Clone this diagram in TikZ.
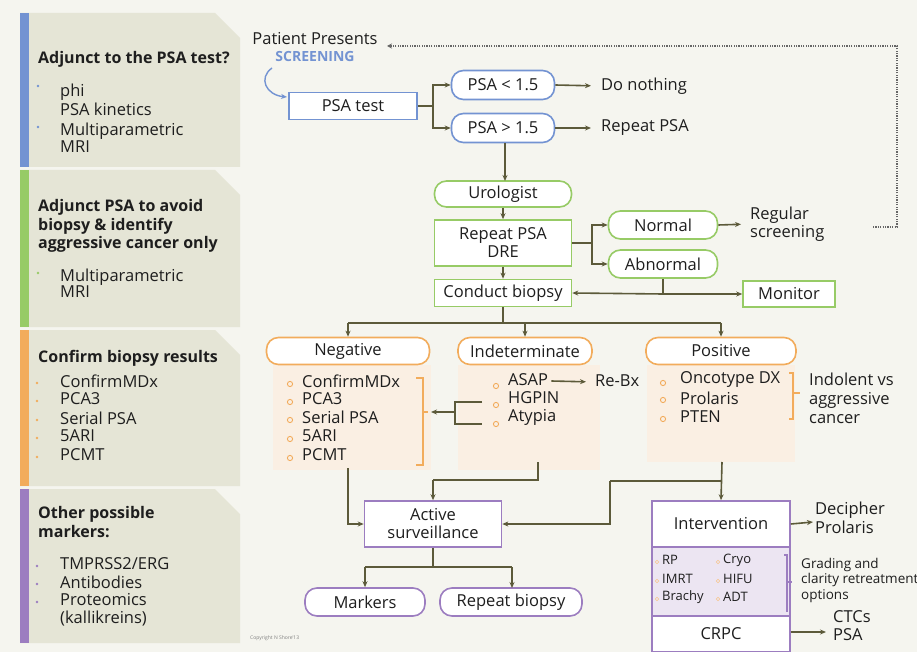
\documentclass[tikz,border=0pt]{standalone}
\usepackage{fontspec}
\setmainfont{Open Sans}
\usetikzlibrary{arrows.meta}
\definecolor{bgC}{HTML}{F5F5EF}
\definecolor{panelC}{HTML}{E5E5D6}
\definecolor{blueC}{HTML}{7393D2}
\definecolor{greenC}{HTML}{97CB66}
\definecolor{orangeC}{HTML}{F2AC5C}
\definecolor{purpleC}{HTML}{9C7DC0}
\definecolor{lineC}{HTML}{5C5A3A}
\definecolor{peachC}{HTML}{FAEFE3}
\definecolor{lilacC}{HTML}{ECE5F2}
\definecolor{txtC}{HTML}{1E1E1E}
\begin{document}
\begin{tikzpicture}[x=1pt,y=-1pt,
  every node/.style={font=\fontsize{16.5}{18}\selectfont, text=txtC, inner sep=0pt},
  conn/.style={draw=lineC, line width=1.6pt},
  arr/.style={conn, -{Stealth[length=6pt,width=5pt]}},
  rectbox/.style={draw=#1, line width=1.6pt, fill=white, align=center},
  pillbox/.style={rectbox=#1, rounded corners=12pt},
  lbl/.style={anchor=west, align=left},
  head/.style={anchor=west, align=left, font=\bfseries\fontsize{16}{18.5}\selectfont},
  item/.style={anchor=west, font=\fontsize{16.5}{16}\selectfont},
  smallitem/.style={anchor=west, font=\fontsize{13}{14}\selectfont},
  ring/.style={draw=orangeC, line width=0.9pt}
]
\useasboundingbox (0,0) rectangle (917,652);
\fill[bgC] (0,0) rectangle (917,652);

% ---------------- left panels ----------------
\foreach \ya/\yb/\c in {13/167/blueC, 170/327/greenC, 330/486/orangeC, 489/643/purpleC}{
  \fill[panelC] (20,\ya) -- (215,\ya) -- (240,\ya+25) -- (240,\yb) -- (20,\yb) -- cycle;
  \fill[\c] (20,\ya) rectangle (29,\yb);
}
% panel 1
\node[head] (h1) at (38,59) {Adjunct to the PSA test?};
\fill[blueC] (38,86) circle (1.4);
\fill[blueC] (38,127) circle (1.4);
\node[item] (p1a) at (60,92) {phi};
\node[item] (p1b) at (60,109) {PSA kinetics};
\node[item] (p1c) at (60,131) {Multiparametric};
\node[item] (p1d) at (60,147) {MRI};
% panel 2
\node[head] (h2) at (38,226) {Adjunct PSA to avoid\\biopsy \& identify\\aggressive cancer only};
\fill[greenC] (38,273) circle (1.4);
\node[item] (p2a) at (60,277) {Multiparametric};
\node[item] (p2b) at (60,292) {MRI};
% panel 3
\node[head] (h3) at (38,358) {Confirm biopsy results};
\foreach \t/\y [count=\i] in {ConfirmMDx/381, PCA3/399, Serial PSA/418, 5ARI/436, PCMT/455}{
  \fill[orangeC] (37,\y+2) circle (1.4);
  \node[item] (p3\i) at (60,\y) {\t};
}
% panel 4
\node[head] (h4) at (38,522) {Other possible\\markers:};
\foreach \t/\y [count=\i] in {{TMPRSS2/ERG}/564, Antibodies/582, Proteomics/600}{
  \fill[purpleC] (37,\y+2) circle (1.4);
  \node[item] (p4\i) at (60,\y) {\t};
}
\node[item] (p44) at (60,619) {(kallikreins)};

% ---------------- top flow ----------------
\node (pp) at (315,39) {Patient Presents};
\node[font=\bfseries\fontsize{14}{15}\selectfont, text=blueC] (scr) at (315,57) {SCREENING};
\node[rectbox=blueC, minimum width=128pt, minimum height=27pt] (psa) at (353,106) {PSA test};
\node[pillbox=blueC, minimum width=103pt, minimum height=29pt] (lt) at (503,85) {PSA < 1.5};
\node[pillbox=blueC, minimum width=103pt, minimum height=29pt] (gt) at (503,128) {PSA > 1.5};
\node[lbl] (dn) at (601,86) {Do nothing};
\node[lbl] (rp) at (601,128) {Repeat PSA};

\draw[blueC, line width=1.4pt, -{Stealth[length=6pt,width=5pt]}] (272,68) .. controls (258,78) and (266,95) .. (287,97);
\draw[conn] (psa.east) -- (433,106) coordinate (b1);
\draw[arr] (b1) |- (lt.west);
\draw[arr] (b1) |- (gt.west);
\draw[arr, shorten >=10pt] (lt.east) -- (dn.west);
\draw[arr, shorten >=10pt] (gt.east) -- (rp.west);

% ---------------- urologist ----------------
\node[pillbox=greenC, minimum width=137pt, minimum height=26pt] (uro) at (503,194) {Urologist};
\node[rectbox=greenC, minimum width=137pt, minimum height=46pt] (rep) at (503,243) {Repeat PSA\\DRE};
\node[rectbox=greenC, minimum width=137pt, minimum height=27pt] (cb) at (503,293) {Conduct biopsy};
\node[pillbox=greenC, minimum width=109pt, minimum height=28pt] (nor) at (663,225) {Normal};
\node[pillbox=greenC, minimum width=109pt, minimum height=28pt] (abn) at (663,264) {Abnormal};
\node[rectbox=greenC, minimum width=92pt, minimum height=26pt] (mon) at (789,294) {Monitor};
\node[lbl] (regs) at (750,224) {Regular\\screening};

\draw[arr] (505,143) -- (505,181);
\draw[arr] (uro) -- (rep);
\draw[arr] (rep) -- (cb);
\draw[conn] (rep.east) -- (592,243) coordinate (b2);
\draw[arr] (b2) |- (nor.west);
\draw[arr] (b2) |- (abn.west);
\draw[arr, shorten >=9pt] (nor.east) -- (regs.west);
\draw[conn] (abn.south) -- (663,294) coordinate (b3);
\draw[arr] (b3) -- (cb.east);
\draw[arr] (b3) -- (mon.west);

% dotted feedback
\coordinate (fb1) at (873,227);
\coordinate (fb2) at (897,227);
\coordinate (fb3) at (897,46);
\coordinate (fb4) at (387,46);
\draw[black!60, line width=1.1pt, dash pattern=on 1.2pt off 1.2pt, -{Stealth[length=5pt,width=5pt]}] (fb1) -- (fb2) -- (fb3) -- (fb4);

% ---------------- biopsy results ----------------
\fill[peachC] (273,365) rectangle (431,470);
\fill[peachC] (458,365) rectangle (600,470);
\fill[peachC] (647,365) rectangle (795,462);
\node[pillbox=orangeC, minimum width=163pt, minimum height=27pt] (neg) at (348,351) {Negative};
\node[pillbox=orangeC, minimum width=134pt, minimum height=27pt] (ind) at (525,351) {Indeterminate};
\node[pillbox=orangeC, minimum width=150pt, minimum height=27pt] (pos) at (721,351) {Positive};

\draw[conn] (cb.south) -- (503,323) coordinate (b4);
\draw[conn] (neg.north |- b4) -- (pos.north |- b4);
\draw[arr] (neg.north |- b4) -- (neg.north);
\draw[arr] (ind.north |- b4) -- (ind.north);
\draw[arr] (pos.north |- b4) -- (pos.north);

% negative list
\foreach \t/\y [count=\i] in {ConfirmMDx/381, PCA3/399, Serial PSA/417, 5ARI/436, PCMT/455}{
  \draw[ring] (290,\y+3) circle (2.6);
  \node[item] (n\i) at (302,\y) {\t};
}
\draw[orangeC, line width=1.2pt] (416,378) -- (423,378) -- (423,465) -- (416,465);
\draw[orangeC, line width=1.2pt] (423,412) -- (428,412);
% indeterminate list
\foreach \t/\y/\yc [count=\i] in {ASAP/380/386, HGPIN/398/405, Atypia/417/424}{
  \draw[ring] (496,\yc) circle (2.6);
  \node[item] (d\i) at (508,\y) {\t};
}
\node[lbl] (rebx) at (595,381) {Re-Bx};
\draw[arr, shorten >=9pt] (d1.east) ++(3,1) -- (rebx.west |- 0,382);
\coordinate (fk1) at (482,402);
\coordinate (fk2) at (482,424);
\draw[conn] (fk1) -- (455,402) -- (455,424) -- (fk2);
\draw[arr] (455,412) -- (431,412);
% positive list
\foreach \t/\y/\yc [count=\i] in {Oncotype DX/379/383, Prolaris/398/400, PTEN/417/419}{
  \draw[ring] (663,\yc) circle (2.6);
  \node[item] (q\i) at (680,\y) {\t};
}
\draw[orangeC, line width=1.2pt] (789,373) -- (793,373) -- (793,419) -- (789,419);
\draw[orangeC, line width=1.2pt] (793,393) -- (800,393);
\node[lbl, font=\fontsize{16.5}{19}\selectfont] (indo) at (809,398) {Indolent vs\\aggressive\\cancer};

% ---------------- lower part ----------------
\node[rectbox=purpleC, minimum width=137pt, minimum height=46pt] (as) at (433,524) {Active\\surveillance};
\draw[purpleC, line width=1.6pt, fill=lilacC] (652,501) rectangle (790,652);
\node[rectbox=purpleC, minimum width=138pt, minimum height=46pt] (int) at (721,524) {Intervention};
\node[rectbox=purpleC, minimum width=138pt, minimum height=36pt] (crpc) at (721,634) {CRPC};
\node[pillbox=purpleC, minimum width=120pt, minimum height=28pt] (mk) at (365,602) {Markers};
\node[pillbox=purpleC, minimum width=142pt, minimum height=28pt] (rb) at (511,602) {Repeat biopsy};

\draw[arr] (348,468) |- (as.west);
\draw[conn] (538,462) -- (538,480) -- (433,480) coordinate (b5);
\draw[arr] (b5) -- (as.north);
\draw[arr] (722,462) -- (int.north);
\draw[conn] (722,481) -- (610,481) coordinate (b6);
\draw[arr] (b6) |- (as.east);
\draw[conn] (as.south) -- (433,567) coordinate (b7);
\draw[conn] (mk.north |- b7) -- (512,567);
\draw[arr] (mk.north |- b7) -- (mk.north);
\draw[arr] (512,567) -- (512,588);

% intervention options
\foreach \t/\y in {RP/560, IMRT/579, Brachy/597}{
  \draw[orangeC!70, line width=0.6pt] (657,\y+2) circle (1.8);
  \node[smallitem] at (662,\y) {\t};
}
\foreach \t/\y in {Cryo/560, HIFU/579, ADT/597}{
  \draw[orangeC!70, line width=0.6pt] (718,\y+2) circle (1.8);
  \node[smallitem] at (723,\y) {\t};
}
\draw[purpleC, line width=1.1pt] (784,555) -- (787,555) -- (787,612);
\draw[purpleC, line width=1.1pt] (787,582) -- (792,582);
\node[lbl, font=\fontsize{13.5}{15.5}\selectfont] (grad) at (801,580) {Grading and\\clarity retreatment\\options};

\node[lbl, font=\fontsize{16.5}{19}\selectfont] (dec) at (815,518) {Decipher\\Prolaris};
\draw[arr] (int.east) -- (813,522);
\node[lbl, font=\fontsize{16.5}{18}\selectfont] (ctc) at (833,626) {CTCs\\PSA};
\draw[arr] (crpc.east |- 0,632) -- (826,632);

\node[anchor=west, font=\fontsize{5}{6}\selectfont, text=black!50] (copy) at (250,638) {Copyright N Shore'13};
\end{tikzpicture}
\end{document}
